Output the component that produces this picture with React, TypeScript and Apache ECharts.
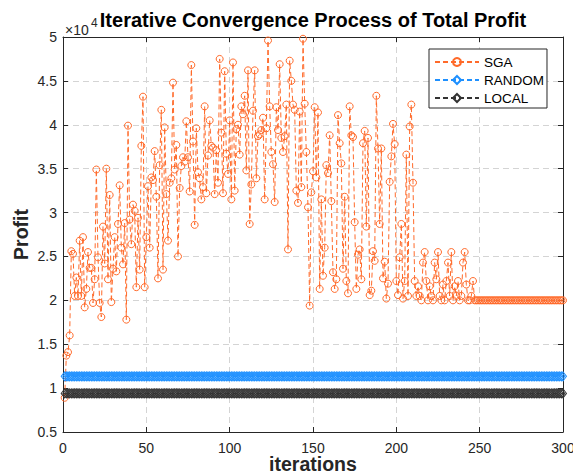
import React, { useEffect, useRef } from "react";
import * as echarts from "echarts";

// Profit values in units of 10^4, iterations 1..300
const SGA_PROFIT = [
  0.89, 1.37, 1.41, 1.60, 2.56, 2.53, 2.05, 2.26, 2.05, 2.68,
  2.05, 2.72, 1.92, 2.13, 2.55, 2.37, 2.37, 1.97, 2.24, 3.49,
  2.49, 1.97, 1.81, 2.84, 2.42, 3.50, 2.24, 3.20, 1.98, 2.36,
  2.72, 2.33, 2.87, 3.31, 2.60, 2.41, 2.88, 1.78, 3.99, 2.92,
  2.64, 3.09, 3.02, 2.15, 2.94, 2.35, 3.76, 4.32, 2.15, 2.72,
  3.30, 2.60, 3.40, 3.37, 3.70, 3.18, 2.25, 3.54, 4.17, 2.35,
  3.97, 3.21, 2.68, 3.34, 3.39, 4.48, 3.49, 3.77, 2.50, 3.28,
  3.53, 3.63, 3.58, 4.04, 3.63, 3.24, 4.68, 3.81, 2.86, 3.96,
  3.46, 3.39, 3.15, 3.29, 4.21, 3.22, 3.65, 4.05, 3.76, 3.74,
  3.21, 3.71, 3.34, 4.75, 3.91, 3.22, 4.61, 3.67, 3.44, 4.05,
  3.15, 4.71, 3.25, 3.95, 4.00, 3.66, 4.21, 4.12, 4.33, 3.48,
  4.62, 2.87, 3.32, 4.16, 4.62, 3.39, 3.87, 3.89, 3.94, 4.08,
  3.15, 3.96, 4.96, 4.21, 3.69, 3.55, 3.12, 4.20, 3.94, 4.69,
  3.85, 3.69, 3.87, 4.23, 2.58, 4.73, 4.50, 4.23, 4.17, 3.25,
  3.11, 4.15, 3.29, 4.98, 4.24, 3.69, 3.06, 1.94, 3.23, 3.47,
  4.20, 3.40, 4.14, 2.13, 3.15, 2.28, 2.60, 3.54, 3.45, 3.88,
  3.13, 2.32, 2.13, 2.24, 4.11, 3.79, 3.56, 2.36, 3.18, 2.22,
  2.08, 4.21, 3.88, 3.86, 2.89, 2.13, 2.52, 2.58, 2.24, 3.79,
  3.93, 2.84, 3.85, 2.06, 2.11, 2.56, 2.45, 4.33, 3.73, 2.87,
  3.73, 2.25, 2.44, 2.02, 2.19, 3.35, 3.64, 4.01, 3.78, 2.22,
  2.06, 2.49, 2.87, 2.02, 2.22, 3.66, 2.05, 3.98, 4.23, 3.34,
  2.22, 2.05, 2.16, 2.05, 2.00, 2.43, 2.55, 2.22, 2.00, 2.16,
  2.05, 2.00, 2.43, 2.24, 2.55, 2.05, 2.00, 2.18, 2.00, 2.22,
  2.43, 2.05, 2.55, 2.00, 2.16, 2.05, 2.22, 2.00, 2.05, 2.43,
  2.55, 2.18, 2.00, 2.00, 2.05, 2.22, 2.00, 2.00, 2.00, 2.00,
  2.00, 2.00, 2.00, 2.00, 2.00, 2.00, 2.00, 2.00, 2.00, 2.00,
  2.00, 2.00, 2.00, 2.00, 2.00, 2.00, 2.00, 2.00, 2.00, 2.00,
  2.00, 2.00, 2.00, 2.00, 2.00, 2.00, 2.00, 2.00, 2.00, 2.00,
  2.00, 2.00, 2.00, 2.00, 2.00, 2.00, 2.00, 2.00, 2.00, 2.00,
  2.00, 2.00, 2.00, 2.00, 2.00, 2.00, 2.00, 2.00, 2.00, 2.00,
];

const RANDOM_PROFIT = [
  1.134, 1.134, 1.134, 1.134, 1.134, 1.134, 1.134, 1.134, 1.134, 1.134, 1.134, 1.134, 1.134, 1.134, 1.134, 1.134, 1.134, 1.134, 1.134, 1.134, 1.134, 1.134, 1.134, 1.134, 1.134, 1.134, 1.134, 1.134, 1.134, 1.134,
  1.134, 1.134, 1.134, 1.134, 1.134, 1.134, 1.134, 1.134, 1.134, 1.134, 1.134, 1.134, 1.134, 1.134, 1.134, 1.134, 1.134, 1.134, 1.134, 1.134, 1.134, 1.134, 1.134, 1.134, 1.134, 1.134, 1.134, 1.134, 1.134, 1.134,
  1.134, 1.134, 1.134, 1.134, 1.134, 1.134, 1.134, 1.134, 1.134, 1.134, 1.134, 1.134, 1.134, 1.134, 1.134, 1.134, 1.134, 1.134, 1.134, 1.134, 1.134, 1.134, 1.134, 1.134, 1.134, 1.134, 1.134, 1.134, 1.134, 1.134,
  1.134, 1.134, 1.134, 1.134, 1.134, 1.134, 1.134, 1.134, 1.134, 1.134, 1.134, 1.134, 1.134, 1.134, 1.134, 1.134, 1.134, 1.134, 1.134, 1.134, 1.134, 1.134, 1.134, 1.134, 1.134, 1.134, 1.134, 1.134, 1.134, 1.134,
  1.134, 1.134, 1.134, 1.134, 1.134, 1.134, 1.134, 1.134, 1.134, 1.134, 1.134, 1.134, 1.134, 1.134, 1.134, 1.134, 1.134, 1.134, 1.134, 1.134, 1.134, 1.134, 1.134, 1.134, 1.134, 1.134, 1.134, 1.134, 1.134, 1.134,
  1.134, 1.134, 1.134, 1.134, 1.134, 1.134, 1.134, 1.134, 1.134, 1.134, 1.134, 1.134, 1.134, 1.134, 1.134, 1.134, 1.134, 1.134, 1.134, 1.134, 1.134, 1.134, 1.134, 1.134, 1.134, 1.134, 1.134, 1.134, 1.134, 1.134,
  1.134, 1.134, 1.134, 1.134, 1.134, 1.134, 1.134, 1.134, 1.134, 1.134, 1.134, 1.134, 1.134, 1.134, 1.134, 1.134, 1.134, 1.134, 1.134, 1.134, 1.134, 1.134, 1.134, 1.134, 1.134, 1.134, 1.134, 1.134, 1.134, 1.134,
  1.134, 1.134, 1.134, 1.134, 1.134, 1.134, 1.134, 1.134, 1.134, 1.134, 1.134, 1.134, 1.134, 1.134, 1.134, 1.134, 1.134, 1.134, 1.134, 1.134, 1.134, 1.134, 1.134, 1.134, 1.134, 1.134, 1.134, 1.134, 1.134, 1.134,
  1.134, 1.134, 1.134, 1.134, 1.134, 1.134, 1.134, 1.134, 1.134, 1.134, 1.134, 1.134, 1.134, 1.134, 1.134, 1.134, 1.134, 1.134, 1.134, 1.134, 1.134, 1.134, 1.134, 1.134, 1.134, 1.134, 1.134, 1.134, 1.134, 1.134,
  1.134, 1.134, 1.134, 1.134, 1.134, 1.134, 1.134, 1.134, 1.134, 1.134, 1.134, 1.134, 1.134, 1.134, 1.134, 1.134, 1.134, 1.134, 1.134, 1.134, 1.134, 1.134, 1.134, 1.134, 1.134, 1.134, 1.134, 1.134, 1.134, 1.134,
];

const LOCAL_PROFIT = [
  0.94, 0.94, 0.94, 0.94, 0.94, 0.94, 0.94, 0.94, 0.94, 0.94, 0.94, 0.94, 0.94, 0.94, 0.94, 0.94, 0.94, 0.94, 0.94, 0.94, 0.94, 0.94, 0.94, 0.94, 0.94, 0.94, 0.94, 0.94, 0.94, 0.94,
  0.94, 0.94, 0.94, 0.94, 0.94, 0.94, 0.94, 0.94, 0.94, 0.94, 0.94, 0.94, 0.94, 0.94, 0.94, 0.94, 0.94, 0.94, 0.94, 0.94, 0.94, 0.94, 0.94, 0.94, 0.94, 0.94, 0.94, 0.94, 0.94, 0.94,
  0.94, 0.94, 0.94, 0.94, 0.94, 0.94, 0.94, 0.94, 0.94, 0.94, 0.94, 0.94, 0.94, 0.94, 0.94, 0.94, 0.94, 0.94, 0.94, 0.94, 0.94, 0.94, 0.94, 0.94, 0.94, 0.94, 0.94, 0.94, 0.94, 0.94,
  0.94, 0.94, 0.94, 0.94, 0.94, 0.94, 0.94, 0.94, 0.94, 0.94, 0.94, 0.94, 0.94, 0.94, 0.94, 0.94, 0.94, 0.94, 0.94, 0.94, 0.94, 0.94, 0.94, 0.94, 0.94, 0.94, 0.94, 0.94, 0.94, 0.94,
  0.94, 0.94, 0.94, 0.94, 0.94, 0.94, 0.94, 0.94, 0.94, 0.94, 0.94, 0.94, 0.94, 0.94, 0.94, 0.94, 0.94, 0.94, 0.94, 0.94, 0.94, 0.94, 0.94, 0.94, 0.94, 0.94, 0.94, 0.94, 0.94, 0.94,
  0.94, 0.94, 0.94, 0.94, 0.94, 0.94, 0.94, 0.94, 0.94, 0.94, 0.94, 0.94, 0.94, 0.94, 0.94, 0.94, 0.94, 0.94, 0.94, 0.94, 0.94, 0.94, 0.94, 0.94, 0.94, 0.94, 0.94, 0.94, 0.94, 0.94,
  0.94, 0.94, 0.94, 0.94, 0.94, 0.94, 0.94, 0.94, 0.94, 0.94, 0.94, 0.94, 0.94, 0.94, 0.94, 0.94, 0.94, 0.94, 0.94, 0.94, 0.94, 0.94, 0.94, 0.94, 0.94, 0.94, 0.94, 0.94, 0.94, 0.94,
  0.94, 0.94, 0.94, 0.94, 0.94, 0.94, 0.94, 0.94, 0.94, 0.94, 0.94, 0.94, 0.94, 0.94, 0.94, 0.94, 0.94, 0.94, 0.94, 0.94, 0.94, 0.94, 0.94, 0.94, 0.94, 0.94, 0.94, 0.94, 0.94, 0.94,
  0.94, 0.94, 0.94, 0.94, 0.94, 0.94, 0.94, 0.94, 0.94, 0.94, 0.94, 0.94, 0.94, 0.94, 0.94, 0.94, 0.94, 0.94, 0.94, 0.94, 0.94, 0.94, 0.94, 0.94, 0.94, 0.94, 0.94, 0.94, 0.94, 0.94,
  0.94, 0.94, 0.94, 0.94, 0.94, 0.94, 0.94, 0.94, 0.94, 0.94, 0.94, 0.94, 0.94, 0.94, 0.94, 0.94, 0.94, 0.94, 0.94, 0.94, 0.94, 0.94, 0.94, 0.94, 0.94, 0.94, 0.94, 0.94, 0.94, 0.94,
];

const SERIES_NAMES = ["SGA", "RANDOM", "LOCAL"];
const TITLE = "Iterative Convergence Process of Total Profit";
const X_NAME = "iterations";
const Y_NAME = "Profit";

const FONT = "'Liberation Sans', Arial, Helvetica, sans-serif";
const AXIS_COLOR = "#262626";
const ORANGE = "#FF6A2A";
const BLUE = "#1E90FF";
const DARK = "#333333";

const toPairs = (arr: number[]) => arr.map((v, k) => [k + 1, v]);

export default function App() {
  const ref = useRef<HTMLDivElement>(null);

  useEffect(() => {
    if (!ref.current) return;
    const chart = echarts.init(ref.current, undefined, { renderer: "svg" });

    const tickStyle = { color: AXIS_COLOR, width: 1 };
    const baseX = {
      type: "value" as const,
      min: 0,
      max: 300,
      interval: 50,
    };
    const baseY = {
      type: "value" as const,
      min: 0.5,
      max: 5,
      interval: 0.5,
    };

    chart.setOption({
      animation: false,
      backgroundColor: "#ffffff",
      grid: { left: 63, right: 10, top: 37, bottom: 42, containLabel: false, outerBoundsMode: "none" },
      legend: {
        data: SERIES_NAMES,
        orient: "vertical",
        left: 429,
        top: 49,
        backgroundColor: "#ffffff",
        borderColor: AXIS_COLOR,
        borderWidth: 1,
        borderRadius: 0,
        padding: [6, 3, 3, 5],
        itemWidth: 44,
        itemHeight: 10,
        itemGap: 4,
        textStyle: { fontSize: 13.5, color: "#000", fontFamily: FONT, lineHeight: 14 },
      },
      xAxis: [
        {
          ...baseX,
          position: "bottom",
          name: X_NAME,
          nameLocation: "middle",
          nameGap: 23,
          nameMoveOverlap: false,
          nameTextStyle: {
            fontSize: 19.5,
            fontWeight: "bold",
            color: "#262626",
            fontFamily: FONT,
            verticalAlign: "top",
            lineHeight: 18,
          },
          axisLine: { show: true, onZero: false, lineStyle: tickStyle },
          axisTick: { show: true, inside: true, length: 5, lineStyle: tickStyle },
          axisLabel: { fontSize: 14, color: AXIS_COLOR, margin: 10, fontFamily: FONT, lineHeight: 12 },
          splitLine: { show: true, lineStyle: { type: [6, 4], color: "#d4d4d4", width: 1 } },
        },
        {
          ...baseX,
          position: "top",
          axisLine: { show: true, onZero: false, lineStyle: tickStyle },
          axisTick: { show: true, inside: true, length: 5, lineStyle: tickStyle },
          axisLabel: { show: false },
          splitLine: { show: false },
        },
      ],
      yAxis: [
        {
          ...baseY,
          position: "left",
          name: Y_NAME,
          nameLocation: "middle",
          nameGap: 32,
          nameMoveOverlap: false,
          nameTextStyle: { fontSize: 19.5, fontWeight: "bold", color: "#262626", fontFamily: FONT },
          axisLine: { show: true, onZero: false, lineStyle: tickStyle },
          axisTick: { show: true, inside: true, length: 5, lineStyle: tickStyle },
          axisLabel: { fontSize: 14, color: AXIS_COLOR, margin: 6, fontFamily: FONT, formatter: (v: number) => String(v) },
          splitLine: { show: true, lineStyle: { type: [6, 4], color: "#d4d4d4", width: 1 } },
        },
        {
          ...baseY,
          position: "right",
          axisLine: { show: true, onZero: false, lineStyle: tickStyle },
          axisTick: { show: true, inside: true, length: 5, lineStyle: tickStyle },
          axisLabel: { show: false },
          splitLine: { show: false },
        },
      ],
      graphic: [
        {
          type: "text",
          x: 313,
          y: 20,
          style: {
            text: TITLE,
            textAlign: "center",
            textVerticalAlign: "middle",
            font: `bold 20px ${FONT}`,
            fill: "#000",
          },
        },
        {
          type: "text",
          x: 65,
          y: 37,
          style: {
            text: "×10",
            textAlign: "left",
            textVerticalAlign: "bottom",
            font: `14px ${FONT}`,
            fill: AXIS_COLOR,
          },
        },
        {
          type: "text",
          x: 91,
          y: 17,
          style: {
            text: "4",
            textAlign: "left",
            textVerticalAlign: "top",
            font: `12px ${FONT}`,
            fill: AXIS_COLOR,
          },
        },
      ],
      series: [
        {
          name: "SGA",
          type: "line",
          data: toPairs(SGA_PROFIT),
          symbol: "circle",
          symbolSize: 7,
          showAllSymbol: true,
          lineStyle: { color: ORANGE, width: 1, type: [5, 3] },
          itemStyle: { color: "rgba(255,255,255,0)", borderColor: ORANGE, borderWidth: 1 },
          z: 2,
        },
        {
          name: "RANDOM",
          type: "line",
          data: toPairs(RANDOM_PROFIT),
          symbol: "diamond",
          symbolSize: [7, 9],
          showAllSymbol: true,
          lineStyle: { color: BLUE, width: 1, type: [5, 3] },
          itemStyle: { color: "rgba(255,255,255,0)", borderColor: BLUE, borderWidth: 1 },
          z: 3,
        },
        {
          name: "LOCAL",
          type: "line",
          data: toPairs(LOCAL_PROFIT),
          symbol: "diamond",
          symbolSize: [7, 9],
          showAllSymbol: true,
          lineStyle: { color: DARK, width: 1, type: [5, 3] },
          itemStyle: { color: "rgba(255,255,255,0)", borderColor: DARK, borderWidth: 1 },
          z: 3,
        },
      ],
    });

    return () => chart.dispose();
  }, []);

  return (
    <div
      ref={ref}
      style={{ position: "fixed", left: 0, top: 0, width: 573, height: 474, background: "#fff" }}
    />
  );
}
